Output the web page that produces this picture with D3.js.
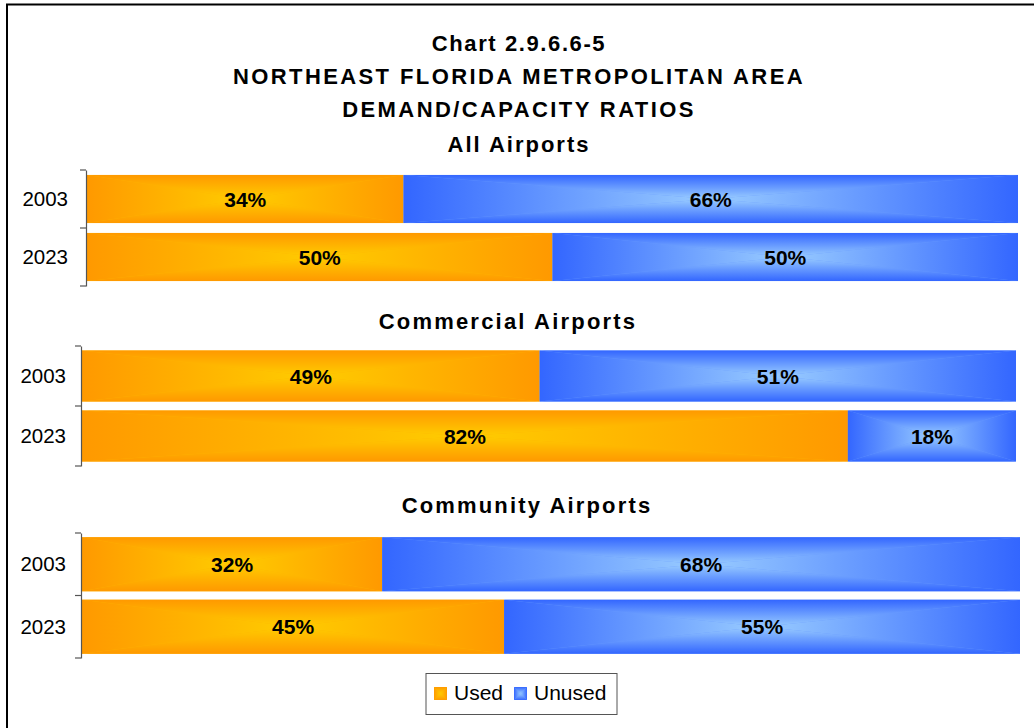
<!DOCTYPE html>
<html>
<head>
<meta charset="utf-8">
<script src="https://cdn.jsdelivr.net/npm/d3@7"></script>
<style>
  html, body { margin: 0; padding: 0; background: #fff; }
  svg { display: block; font-family: "Liberation Sans", Arial, sans-serif; }
</style>
</head>
<body>
<svg id="chart" width="1034" height="728"></svg>
<script>
// Demand/capacity ratios, percent of capacity used and unused
const years = ["2003", "2023"];
const groups = ["All Airports", "Commercial Airports", "Community Airports"];
const usedAll = [34, 50];
const unusedAll = [66, 50];
const usedCommercial = [49, 82];
const unusedCommercial = [51, 18];
const usedCommunity = [32, 45];
const unusedCommunity = [68, 55];
const seriesNames = ["Used", "Unused"];
const titleLines = ["Chart 2.9.6.6-5", "NORTHEAST FLORIDA METROPOLITAN AREA", "DEMAND/CAPACITY RATIOS"];

const palette = {
  Used:   { edge: "#ff9900", center: "#ffcc00" },
  Unused: { edge: "#3366ff", center: "#99ccff" }
};

const panels = [
  { name: groups[0], used: usedAll, unused: unusedAll,
    x0: 87, x1: 1018, top: 170, bottom: 286, pad: 0.17, axisX: 86,
    labelX: 68, headX: 519, headY: 152, spacing: 2.0 },
  { name: groups[1], used: usedCommercial, unused: unusedCommercial,
    x0: 82, x1: 1016, top: 346, bottom: 466, pad: 0.15, axisX: 81,
    labelX: 66, headX: 508, headY: 329, spacing: 2.2 },
  { name: groups[2], used: usedCommunity, unused: unusedCommunity,
    x0: 82, x1: 1020, top: 533, bottom: 658, pad: 0.135, axisX: 81,
    labelX: 66, headX: 527, headY: 513, spacing: 2.15 }
];

const svg = d3.select("#chart");
const defs = svg.append("defs");

// Box ("from centre") gradient: four triangles, each shaded from its outer edge to the centre
const sides = {
  top:    { x1: 0, y1: 0, x2: 0, y2: 1 },
  bottom: { x1: 0, y1: 1, x2: 0, y2: 0 },
  left:   { x1: 0, y1: 0, x2: 1, y2: 0 },
  right:  { x1: 1, y1: 0, x2: 0, y2: 0 }
};
seriesNames.forEach(s => {
  Object.entries(sides).forEach(([side, v]) => {
    const g = defs.append("linearGradient")
      .attr("id", `g-${s}-${side}`)
      .attr("x1", v.x1).attr("y1", v.y1).attr("x2", v.x2).attr("y2", v.y2);
    g.append("stop").attr("offset", 0).attr("stop-color", palette[s].edge);
    g.append("stop").attr("offset", 1).attr("stop-color", palette[s].center);
  });
});

function boxGradientRect(parent, x, y, w, h, s) {
  const g = parent.append("g");
  const cx = x + w / 2, cy = y + h / 2;
  g.append("rect").attr("x", x).attr("y", y).attr("width", w).attr("height", h)
    .attr("fill", d3.interpolateRgb(palette[s].edge, palette[s].center)(0.5));
  const tri = {
    top:    [[x, y], [x + w, y], [cx, cy]],
    bottom: [[x, y + h], [x + w, y + h], [cx, cy]],
    left:   [[x, y], [x, y + h], [cx, cy]],
    right:  [[x + w, y], [x + w, y + h], [cx, cy]]
  };
  Object.entries(tri).forEach(([side, pts]) => {
    g.append("path")
      .attr("d", "M" + pts.map(p => p.join(",")).join("L") + "Z")
      .attr("fill", `url(#g-${s}-${side})`);
  });
  return g;
}

// Outer frame
svg.append("rect").attr("x", 7).attr("y", 4.5).attr("width", 1100).attr("height", 800)
  .attr("fill", "none").attr("stroke", "#000").attr("stroke-width", 2);

// Titles
const titleY = [51, 84, 117];
const titleSpacing = [1.6, 2.4, 2.4];
titleLines.forEach((t, i) => {
  svg.append("text").attr("x", 519).attr("y", titleY[i])
    .attr("text-anchor", "middle").attr("font-size", 22).attr("font-weight", "bold")
    .attr("letter-spacing", titleSpacing[i]).attr("fill", "#000").text(t);
});

panels.forEach(p => {
  const x = d3.scaleLinear().domain([0, 100]).range([p.x0, p.x1]);
  const y = d3.scaleBand().domain(years).range([p.top, p.bottom])
    .paddingInner(p.pad).paddingOuter(p.pad / 2);
  const g = svg.append("g");

  g.append("text").attr("x", p.headX).attr("y", p.headY)
    .attr("text-anchor", "middle").attr("font-size", 22).attr("font-weight", "bold")
    .attr("letter-spacing", p.spacing).text(p.name);

  years.forEach((yr, i) => {
    const vals = [p.used[i], p.unused[i]];
    let acc = 0;
    vals.forEach((v, k) => {
      const s = seriesNames[k];
      const xa = x(acc), xb = x(acc + v);
      boxGradientRect(g, xa, y(yr), xb - xa, y.bandwidth(), s);
      g.append("text")
        .attr("x", (xa + xb) / 2).attr("y", y(yr) + y.bandwidth() / 2 + 7.5)
        .attr("text-anchor", "middle").attr("font-size", 21).attr("font-weight", "bold")
        .text(v + "%");
      acc += v;
    });
  });

  // Category axis with boundary ticks
  const axis = d3.axisLeft(y).tickSize(0).tickPadding(0).tickFormat(() => "");
  const ax = g.append("g").attr("transform", `translate(${p.axisX},0)`).call(axis);
  ax.select(".domain").attr("stroke", "#555").attr("stroke-width", 1.2);
  const bounds = [p.top, ...years.slice(1).map(yr => y(yr) - y.step() * p.pad / 2), p.bottom];
  ax.selectAll("line.bound").data(bounds).join("line").attr("class", "bound")
    .attr("x1", -6).attr("x2", 0).attr("y1", d => d).attr("y2", d => d)
    .attr("stroke", "#555").attr("stroke-width", 1.2);
  years.forEach(yr => {
    g.append("text").attr("x", p.labelX).attr("y", y(yr) + y.bandwidth() / 2 + 7)
      .attr("text-anchor", "end").attr("font-size", 20.5).text(yr);
  });
});

// Legend
const lg = svg.append("g");
lg.append("rect").attr("x", 426).attr("y", 673.5).attr("width", 191).attr("height", 41)
  .attr("fill", "#fff").attr("stroke", "#555").attr("stroke-width", 1);
const legendX = [434, 514];
seriesNames.forEach((s, i) => {
  boxGradientRect(lg, legendX[i], 687, 13, 13, s);
  lg.append("text").attr("x", legendX[i] + 20).attr("y", 699.5)
    .attr("font-size", 21).text(s);
});
</script>
</body>
</html>
